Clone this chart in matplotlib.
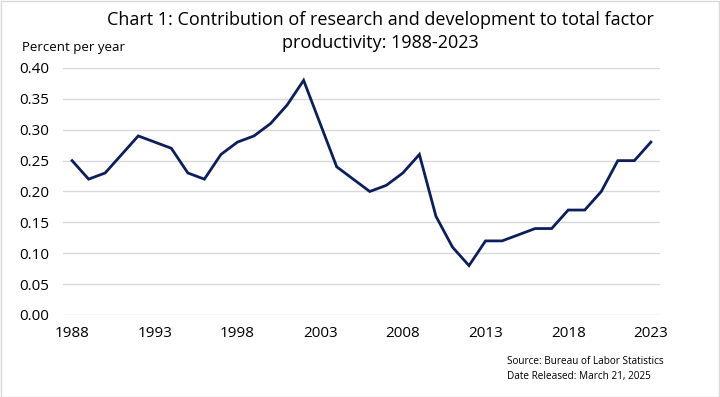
import matplotlib
matplotlib.use("Agg")
import matplotlib.pyplot as plt
from matplotlib.patches import Rectangle

years = list(range(1988, 2024))
values = [0.25, 0.22, 0.23, 0.26, 0.29, 0.28, 0.27, 0.23, 0.22, 0.26,
          0.28, 0.29, 0.31, 0.34, 0.38, 0.31, 0.24, 0.22, 0.20, 0.21,
          0.23, 0.26, 0.16, 0.11, 0.08, 0.12, 0.12, 0.13, 0.14, 0.14,
          0.17, 0.17, 0.20, 0.25, 0.25, 0.28]
yticks = [0.00, 0.05, 0.10, 0.15, 0.20, 0.25, 0.30, 0.35, 0.40]
xticks = [1988, 1993, 1998, 2003, 2008, 2013, 2018, 2023]

plt.rcParams['font.family'] = ['Open Sans', 'DejaVu Sans']

fig = plt.figure(figsize=(7.2, 3.97), dpi=100)
ax = fig.add_axes([63/720, 1-315/397, (660-63)/720, (315-68)/397])

ax.plot(years, values, color='#0c1f5c', linewidth=2.0, solid_joinstyle='miter')
ax.set_xlim(1987.45, 2023.55)
ax.set_ylim(0, 0.40)
ax.set_yticks(yticks)
ax.set_yticklabels([f"{v:.2f}" for v in yticks])
ax.set_xticks(xticks)
ax.set_xticklabels([str(x) for x in xticks])
ax.grid(axis='y', color='#d9d9d9', linewidth=1.0)
ax.set_axisbelow(True)
for s in ax.spines.values():
    s.set_visible(False)
ax.tick_params(axis='both', length=0, labelsize=11, colors='black')
ax.tick_params(axis='y', pad=10)
ax.tick_params(axis='x', pad=8)

fig.text(380/720, 1-20/397, "Chart 1: Contribution of research and development to total factor",
         ha='center', va='center', fontsize=13)
fig.text(380/720, 1-43/397, "productivity: 1988-2023", ha='center', va='center', fontsize=13)
fig.text(22/720, 1-48/397, "Percent per year", ha='left', va='center', fontsize=9.5)
fig.text(507/720, 1-362/397, "Source: Bureau of Labor Statistics", ha='left', va='center', fontsize=7.2)
fig.text(507/720, 1-376/397, "Date Released: March 21, 2025", ha='left', va='center', fontsize=7.2)

fig.patches.append(Rectangle((0.5/720, 0.5/397), 1-1.5/720, 1-1.5/397, transform=fig.transFigure,
                             fill=False, edgecolor='#d9d9d9', linewidth=1.0))

fig.savefig("out.png", dpi=100)
